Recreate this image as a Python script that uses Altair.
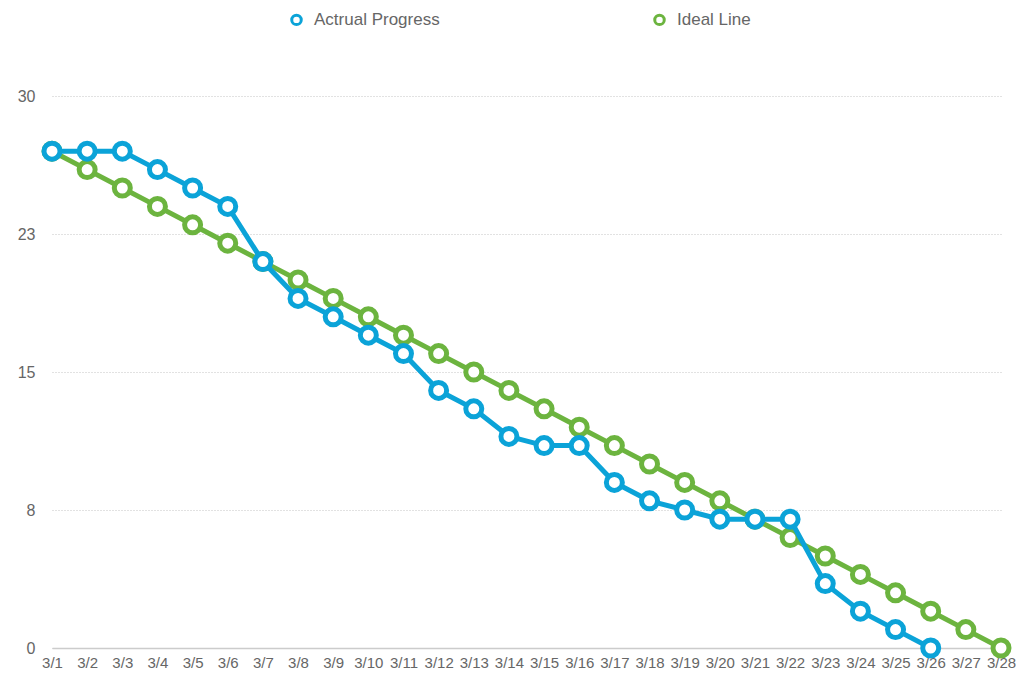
import altair as alt
import pandas as pd

dates = [f"3/{d}" for d in range(1, 29)]
actual = [27, 27, 27, 26, 25, 24, 21, 19, 18, 17, 16, 14, 13, 11.5, 11, 11,
          9, 8, 7.5, 7, 7, 7, 3.5, 2, 1, 0]
ideal = [27, 26, 25, 24, 23, 22, 21, 20, 19, 18, 17, 16, 15, 14, 13, 12, 11,
         10, 9, 8, 7, 6, 5, 4, 3, 2, 1, 0]
series_names = ["Actrual Progress", "Ideal Line"]
colors = ["#0ba3d8", "#6cb43f"]
y_ticks = [0, 7.5, 15, 22.5, 30]

rows = []
for d, v in zip(dates, ideal):
    rows.append({"date": d, "value": v, "series": "Ideal Line"})
for d, v in zip(dates, actual):
    rows.append({"date": d, "value": v, "series": "Actrual Progress"})
df = pd.DataFrame(rows)

FONT = "Liberation Sans"

x_enc = alt.X("date:N", sort=dates, scale=alt.Scale(domain=dates, padding=0),
              axis=alt.Axis(title=None, labelAngle=0, labelFontSize=15, labelColor="#666",
                            labelFont=FONT, labelPadding=7, ticks=False, grid=False,
                            domain=True, domainColor="#cccccc", domainWidth=1.5,
                            labelOverlap=False, labelFlush=False))
y_enc = alt.Y("value:Q", scale=alt.Scale(domain=[0, 30], nice=False, zero=True),
              axis=alt.Axis(title=None, values=y_ticks, labelExpr="format(datum.value, '.0f')",
                            labelFontSize=16, labelColor="#666", labelFont=FONT,
                            labelPadding=17, ticks=False, domain=False,
                            grid=True, gridColor="#c4c4c4", gridDash=[1, 2], gridWidth=1))
color_enc = alt.Color("series:N", scale=alt.Scale(domain=series_names, range=colors),
                      legend=alt.Legend(title=None, orient="none", legendX=236, legendY=-85,
                                        direction="horizontal", symbolType="circle",
                                        symbolSize=90, symbolStrokeWidth=3,
                                        symbolFillColor="white", labelFontSize=17,
                                        labelFont=FONT, labelColor="#666", labelOffset=9,
                                        columnPadding=208, padding=0))

layers = []
for name in ["Ideal Line", "Actrual Progress"]:
    base = alt.Chart(df).transform_filter(alt.datum.series == name)
    line = base.mark_line(strokeWidth=5).encode(x=x_enc, y=y_enc, color=color_enc)
    pts = base.mark_point(filled=True, fill="white", size=256, strokeWidth=5, opacity=1,
                          shape="circle").encode(x=x_enc, y=y_enc, stroke=alt.Stroke(
                              "series:N", scale=alt.Scale(domain=series_names, range=colors),
                              legend=None))
    layers += [line, pts]

chart = alt.layer(*layers).properties(
    width=949, height=552,
    autosize=alt.AutoSizeParams(type="none"),
    padding={"left": 44, "top": 88, "right": 15, "bottom": 30},
).configure(font=FONT).configure_view(strokeWidth=0, stroke="transparent")

chart.save("out.html", embed_options={"renderer": "svg", "actions": False})
